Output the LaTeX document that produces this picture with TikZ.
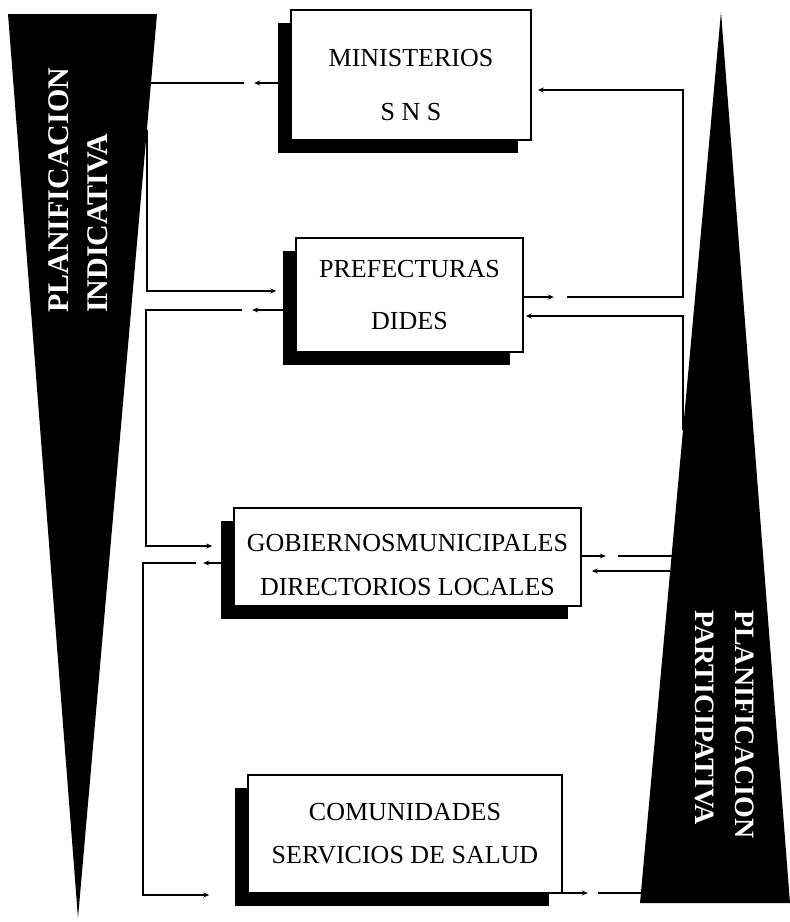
\documentclass[tikz,border=0pt]{standalone}
\usepackage{fontspec}
\setmainfont{Liberation Serif}
\usetikzlibrary{arrows.meta, shadows, backgrounds}

\begin{document}
\begin{tikzpicture}[
    x=1pt, y=-1pt,
    box/.style={rectangle, draw, line width=1.6pt, fill=white, inner sep=0pt, align=center,
        font=\fontsize{26}{30}\selectfont,
        drop shadow={shadow xshift=-13pt, shadow yshift=-13pt, fill=black, opacity=1}},
    wedge/.style={fill=black},
    side/.style={text=white, inner sep=0pt, align=left, font=\bfseries\fontsize{30}{39}\selectfont},
    arrow/.style={-{Stealth[length=6pt, width=5pt]}, line width=1.2pt},
    wire/.style={line width=1.2pt}
]
    \useasboundingbox (0,0) rectangle (790,922);

    % Levels
    \node[box, minimum width=240pt, minimum height=130pt] (min) at (411,75)
        {\rule{0pt}{37pt}MINISTERIOS\\[24pt]S N S};
    \node[box, minimum width=227pt, minimum height=114pt] (pref) at (409.5,295)
        {PREFECTURAS\\[22pt]DIDES};
    \node[box, minimum width=347pt, minimum height=98pt] (gob) at (407.5,557)
        {\rule{0pt}{33pt}GOBIERNOSMUNICIPALES\\[14pt]DIRECTORIOS LOCALES};
    \node[box, minimum width=314pt, minimum height=118pt] (com) at (405,834)
        {COMUNIDADES\\[13pt]SERVICIOS DE SALUD};

    % Free ends on the wedges
    \coordinate (ind1) at (151,83);
    \coordinate (ind2) at (147,130);
    \coordinate (busl1) at (146,546);
    \coordinate (busl2) at (143,895);
    \coordinate (par1) at (683,430);
    \coordinate (busr) at (683,90);
    \coordinate (par2) at (672,556);
    \coordinate (par3) at (670,571);
    \coordinate (par4) at (642,893);

    \begin{scope}[on background layer]
        % Wedges
        \fill[wedge] (8,14) -- (157,14) -- (78,918) -- cycle;
        \fill[wedge] (721,12) -- (790,903) -- (640,903) -- cycle;

        % --- Left side ---
        \draw[arrow] ([yshift=-8pt]min.west) -- ++(-36,0);
        \draw[wire] ([xshift=-46pt,yshift=-8pt]min.west) -- (ind1);

        \draw[arrow] (ind2) |- ([xshift=-19pt,yshift=4pt]pref.west);

        \draw[arrow] ([yshift=-15pt]pref.west) -- ++(-43,0);
        \draw[arrow] ([xshift=-53pt,yshift=-15pt]pref.west) -| (busl1)
            -- ([xshift=-21pt,yshift=11pt]gob.west);

        \draw[arrow] ([yshift=-6pt]gob.west) -- ++(-30,0);
        \draw[arrow] ([xshift=-37pt,yshift=-6pt]gob.west) -| (busl2)
            -- ([xshift=-38pt,yshift=-61pt]com.west);

        % --- Right side ---
        \draw[arrow] ([yshift=-2pt]pref.east) -- ++(30,0);
        \draw[arrow] ([xshift=43pt,yshift=-2pt]pref.east) -| (busr)
            -- ([xshift=6pt,yshift=-15pt]min.east);

        \draw[arrow] (par1) |- ([xshift=2pt,yshift=-21pt]pref.east);

        \draw[arrow] ([yshift=1pt]gob.east) -- ++(24,0);
        \draw[wire] ([xshift=36pt,yshift=1pt]gob.east) -- (par2);
        \draw[arrow] (par3) -- ([xshift=10pt,yshift=-14pt]gob.east);

        \draw[arrow] ([yshift=-59pt]com.east) -- ++(25,0);
        \draw[wire] ([xshift=35pt,yshift=-59pt]com.east) -- (par4);
    \end{scope}

    % Wedge titles
    \node[side, rotate=90, anchor=west] (ind) at (78,313) {PLANIFICACION\\INDICATIVA};
    \node[side, rotate=-90, anchor=west, font=\bfseries\fontsize{28}{40}\selectfont] (par)
        at (725,610) {PLANIFICACION\\PARTICIPATIVA};

\end{tikzpicture}
\end{document}
